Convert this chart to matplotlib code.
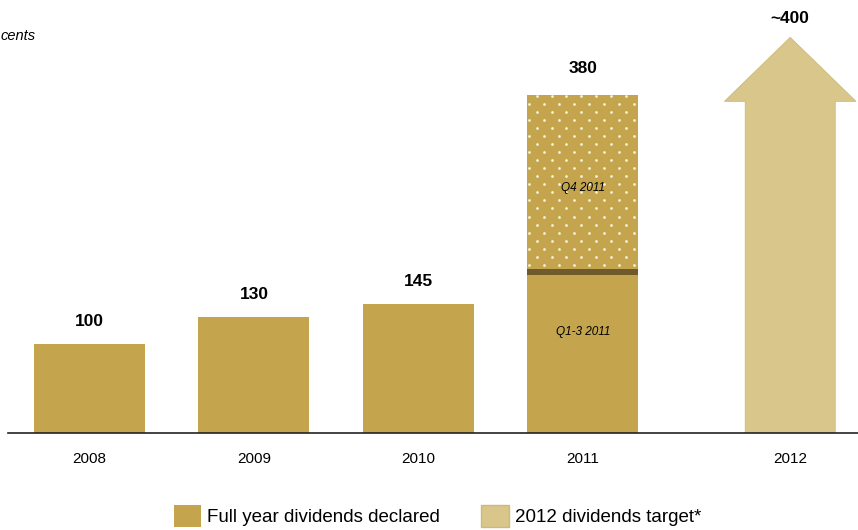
import numpy as np
import matplotlib.pyplot as plt
from matplotlib.patches import Patch

years = ['2008', '2009', '2010', '2011', '2012']
x_pos = [0, 1, 2, 3, 4.26]
declared = [100, 130, 145]
q13_2011 = 185
q4_2011 = 195
total_2011 = q13_2011 + q4_2011
target_2012 = 400
arrow_tip = 445

gold = '#C4A54E'
light = '#D8C68B'
dark = '#6E5A2A'

plt.rcParams['font.family'] = ['Liberation Sans', 'DejaVu Sans']

fig = plt.figure(figsize=(8.58, 5.30), dpi=100)
ax = fig.add_axes([8/858, 1 - 433/530, 1 - 8/858, 433/530])
ax.set_xlim(-0.495, 4.672)
ax.set_ylim(0, 487)

w = 0.675
ax.bar(x_pos[:3], declared, width=w, color=gold, linewidth=0)

# 2011 split: Q1-3 solid, Q4 dotted, dark band in between
ax.bar(x_pos[3], q13_2011, width=w, color=gold, linewidth=0)
ax.bar(x_pos[3], 7, bottom=q13_2011 - 7, width=w, color=dark, linewidth=0)
q4_bar = ax.bar(x_pos[3], q4_2011, bottom=q13_2011, width=w, color=gold, linewidth=0)[0]

# staggered dot texture on the Q4 part
dx, dy = 0.091, 9.0
rows = np.arange(q13_2011 + dy / 2, total_2011, dy)
pts_x, pts_y = [], []
for i, yy in enumerate(rows):
    shift = dx / 2 if i % 2 else 0
    xs = np.arange(x_pos[3] - w / 2 + 0.01 + shift, x_pos[3] + w / 2, dx)
    pts_x.extend(xs)
    pts_y.extend([yy] * len(xs))
dots = ax.scatter(pts_x, pts_y, s=4, color='#F5EFDA', linewidths=0, zorder=3)
dots.set_clip_path(q4_bar)

# 2012 target arrow
ax.arrow(x_pos[4], 0, 0, arrow_tip, width=0.547, head_width=0.80,
         head_length=72, length_includes_head=True,
         facecolor=light, edgecolor='#CDBA7B', linewidth=0.6)

for x, v in zip(x_pos[:3], declared):
    ax.annotate(str(v), (x, v), xytext=(0, 11), textcoords='offset points',
                ha='center', va='bottom', fontsize=12.5, fontweight='bold')
ax.annotate(str(total_2011), (x_pos[3], total_2011), xytext=(0, 14),
            textcoords='offset points', ha='center', va='bottom',
            fontsize=12.5, fontweight='bold')
ax.annotate('~' + str(target_2012), (x_pos[4], arrow_tip), xytext=(0, 8),
            textcoords='offset points', ha='center', va='bottom',
            fontsize=12.5, fontweight='bold')

ax.text(x_pos[3], q13_2011 + q4_2011 / 2 - 7, 'Q4 2011', ha='center', va='center',
        fontsize=8.5, style='italic')
ax.text(x_pos[3], q13_2011 / 2 + 21, 'Q1-3 2011', ha='center', va='center',
        fontsize=8.5, style='italic')

fig.text(1/858, 1 - 36/530, 'cents', ha='left', va='center',
         fontsize=10.5, style='italic')

ax.set_xticks(x_pos)
ax.set_xticklabels(years, fontsize=11)
ax.tick_params(axis='x', length=0, pad=14)
ax.set_yticks([])
for s in ['top', 'right', 'left']:
    ax.spines[s].set_visible(False)
ax.spines['bottom'].set_color('#222222')
ax.spines['bottom'].set_linewidth(1.2)

handles = [Patch(facecolor=gold, edgecolor='none', label='Full year dividends declared'),
           Patch(facecolor=light, edgecolor='#CDBA7B', label='2012 dividends target*')]
fig.legend(handles=handles, loc='center', bbox_to_anchor=(0.51, 1 - 516/530),
           ncol=2, frameon=False, fontsize=13.5, handlelength=1.45,
           handleheight=1.45, handletextpad=0.35, columnspacing=2.2)

fig.savefig('out.png', dpi=100)
